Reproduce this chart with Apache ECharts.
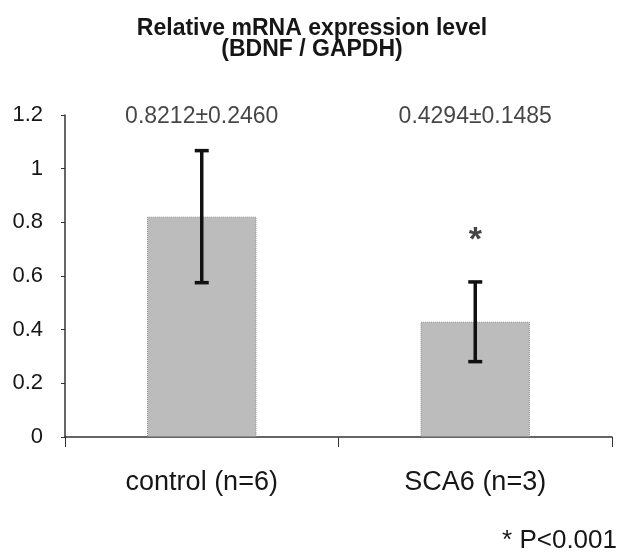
<!DOCTYPE html>
<html>
<head>
<meta charset="UTF-8">
<title>BDNF / GAPDH</title>
<script src="https://cdn.jsdelivr.net/npm/echarts@6/dist/echarts.min.js"></script>
<style>
  html, body { margin: 0; padding: 0; background: #fff; }
  #main { width: 624px; height: 557px; }
</style>
</head>
<body>
<div id="main"></div>
<script type="text/javascript">
    // data
    var groups = ['control (n=6)', 'SCA6 (n=3)'];
    var means = [0.8212, 0.4294];
    var sds = [0.2460, 0.1485];
    var starAt = [null, 0.76];      // significance mark above SCA6
    var yTicks = { min: 0, max: 1.2, step: 0.2 };

    var font = 'Liberation Sans, Arial, sans-serif';
    var ink = '#161616';

    var errData = means.map(function (m, i) { return [i, m - sds[i], m + sds[i]]; });
    var statLabels = means.map(function (m, i) { return m.toFixed(4) + '±' + sds[i].toFixed(4); });

    var chart = echarts.init(document.getElementById('main'));
    chart.setOption({
        animation: false,
        textStyle: { fontFamily: font },
        title: {
            text: 'Relative mRNA expression level\n(BDNF / GAPDH)',
            left: 'center',
            top: 13,
            textStyle: { fontSize: 23, fontWeight: 'bold', color: ink, lineHeight: 21, fontFamily: font }
        },
        grid: { left: 65, right: 12, top: 115, bottom: 120 },
        xAxis: {
            type: 'category',
            data: groups,
            axisLine: { lineStyle: { color: '#333', width: 1.5 } },
            axisTick: { show: true, length: 10, lineStyle: { color: '#333' } },
            axisLabel: { fontSize: 27, color: ink, margin: 32 }
        },
        yAxis: {
            type: 'value',
            min: yTicks.min,
            max: yTicks.max,
            interval: yTicks.step,
            splitLine: { show: false },
            axisLine: { show: true, lineStyle: { color: '#333', width: 1.5 } },
            axisTick: { show: true, length: 4, lineStyle: { color: '#333' } },
            axisLabel: { fontSize: 22, color: ink, margin: 22 }
        },
        series: [
            {
                type: 'bar',
                data: means,
                barWidth: '40%',
                itemStyle: { color: '#bcbcbc', borderColor: '#8a8a8a', borderWidth: 1, borderType: 'dotted' }
            },
            {
                type: 'custom',
                data: errData,
                z: 5,
                renderItem: function (params, api) {
                    var x = api.value(0);
                    var lo = api.coord([x, api.value(1)]);
                    var hi = api.coord([x, api.value(2)]);
                    var w = 7;
                    var st = { stroke: '#111', lineWidth: 3.5 };
                    return {
                        type: 'group',
                        children: [
                            { type: 'line', shape: { x1: hi[0], y1: hi[1], x2: lo[0], y2: lo[1] }, style: st },
                            { type: 'line', shape: { x1: hi[0] - w, y1: hi[1], x2: hi[0] + w, y2: hi[1] }, style: st },
                            { type: 'line', shape: { x1: lo[0] - w, y1: lo[1], x2: lo[0] + w, y2: lo[1] }, style: st }
                        ]
                    };
                }
            },
            {
                type: 'scatter',
                symbolSize: 0,
                data: [yTicks.max, yTicks.max],
                label: {
                    show: true,
                    position: 'inside',
                    offset: [0, 2],
                    fontSize: 23,
                    color: ink,
                    formatter: function (p) { return statLabels[p.dataIndex]; }
                }
            },
            {
                type: 'scatter',
                symbolSize: 0,
                data: starAt,
                label: {
                    show: true,
                    position: 'inside',
                    offset: [0, 8],
                    fontSize: 34,
                    fontWeight: 'bold',
                    color: ink,
                    formatter: '*'
                }
            }
        ],
        graphic: [
            {
                type: 'text',
                right: 7,
                top: 528,
                style: { text: '* P<0.001', fontSize: 26, fill: ink, fontFamily: font }
            }
        ]
    });
</script>
</body>
</html>
